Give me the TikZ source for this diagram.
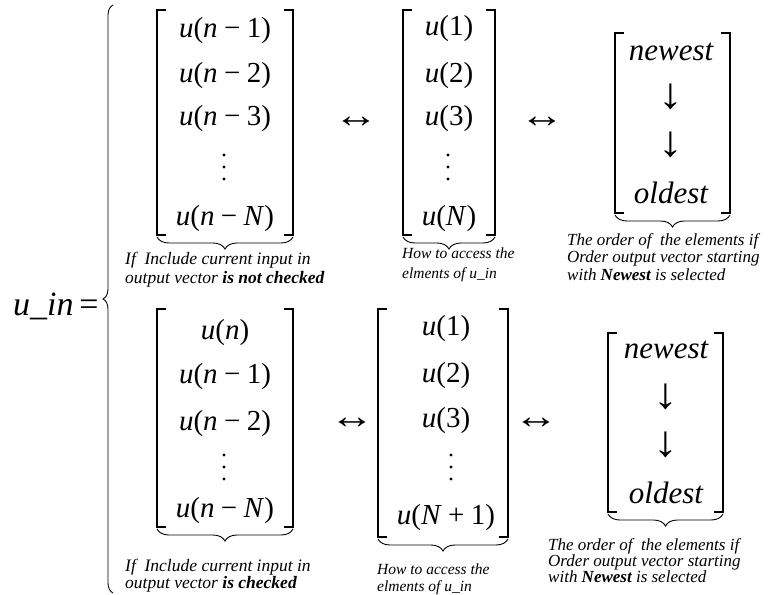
\documentclass[tikz,border=0pt]{standalone}
\usepackage{fontspec}
\setmainfont{Liberation Serif}
\usetikzlibrary{decorations.pathreplacing}
\newcommand\vu{\textit{u}}
\newcommand\vn{\textit{n}}
\newcommand\vN{\textit{N}}
\newcommand\ms{\hspace{0.22em}}
\begin{document}
\begin{tikzpicture}[x=1pt,y=-1pt,
  brk/.style={line width=1.1pt},
  ent/.style={font=\fontsize{29}{31}\selectfont, inner sep=0},
  word/.style={font=\fontsize{31}{33}\selectfont\itshape, inner sep=0},
  arr/.style={font=\fontsize{28}{30}\selectfont, inner sep=0},
  darr/.style={font=\fontsize{38}{40}\selectfont, inner sep=0},
  lbl/.style={font=\fontsize{17.5}{19}\selectfont\itshape, inner sep=0, align=left, anchor=base west},
  mlbl/.style={font=\fontsize{15.5}{20}\selectfont\itshape, inner sep=0, align=left, anchor=base west},
  rlbl/.style={font=\fontsize{17}{17.5}\selectfont\itshape, inner sep=0, align=left, anchor=base west},
  ubrace/.style={decorate, decoration={brace, mirror, amplitude=12pt}, line width=0.9pt},
  bigbrace/.style={decorate, decoration={brace, amplitude=10pt}, line width=0.9pt},
  dotf/.style={fill=black}
]
\useasboundingbox (0,0) rectangle (778,594);

% u_in =
\node[anchor=base west, inner sep=0, font=\fontsize{34}{36}\selectfont] (uin) at (13,315) {\textit{u\_in}\,=};
\draw[bigbrace] (113,593) -- (113,5);

% ---------- top row ----------
% matrix 1
\draw[brk] (166,10) -- (157,10) -- (157,235) -- (166,235);
\draw[brk] (284,10) -- (293,10) -- (293,235) -- (284,235);
\node[ent] (a1) at (225,31) {\vu(\vn\ms−\ms1)};
\node[ent] (a2) at (225,76) {\vu(\vn\ms−\ms2)};
\node[ent] (a3) at (225,119) {\vu(\vn\ms−\ms3)};
\fill[dotf] (224,155) circle (1.6) (224,167) circle (1.6) (224,179) circle (1.6);
\node[ent] (a4) at (225,219) {\vu(\vn\ms−\ms\vN)};
\draw[ubrace] (157,237) -- (293,237);
\node[lbl] (la) at (125,283) {If\ \ Include current input in\\output vector \textbf{is not checked}};

\node[arr] (ar1) at (356,122) {\scalebox{1.6}[1.3]{↔}};

% matrix 2
\draw[brk] (412,10) -- (403,10) -- (403,235) -- (412,235);
\draw[brk] (486,10) -- (495,10) -- (495,235) -- (486,235);
\node[ent] (b1) at (449,29) {\vu(1)};
\node[ent] (b2) at (449,76) {\vu(2)};
\node[ent] (b3) at (449,119) {\vu(3)};
\fill[dotf] (448,155) circle (1.6) (448,167) circle (1.6) (448,179) circle (1.6);
\node[ent] (b4) at (449,219) {\vu(\vN)};
\draw[ubrace] (403,237) -- (495,237);
\node[mlbl] (lb) at (402,278) {How to access the\\elments of  u\_in};

\node[arr] (ar2) at (542,122) {\scalebox{1.6}[1.3]{↔}};

% matrix 3
\draw[brk] (624,33) -- (615,33) -- (615,213) -- (624,213);
\draw[brk] (721,33) -- (730,33) -- (730,213) -- (721,213);
\node[word] (c1) at (671,52) {newest};
\node[darr] (c2) at (671,97) {\scalebox{1.3}[1.15]{↓}};
\node[darr] (c3) at (671,145) {\scalebox{1.3}[1.15]{↓}};
\node[word] (c4) at (671,193) {oldest};
\draw[ubrace] (615,215) -- (730,215);
\node[rlbl] (lc) at (567,280) {The order of\ \ the elements if\\Order output vector starting\\with \textbf{Newest} is selected};

% ---------- bottom row ----------
% matrix 4
\draw[brk] (166,309) -- (157,309) -- (157,527) -- (166,527);
\draw[brk] (284,309) -- (293,309) -- (293,527) -- (284,527);
\node[ent] (d1) at (225,333) {\vu(\vn)};
\node[ent] (d2) at (225,377) {\vu(\vn\ms−\ms1)};
\node[ent] (d3) at (225,424) {\vu(\vn\ms−\ms2)};
\fill[dotf] (224,455) circle (1.6) (224,467) circle (1.6) (224,479) circle (1.6);
\node[ent] (d4) at (225,511) {\vu(\vn\ms−\ms\vN)};
\draw[ubrace] (157,529) -- (293,529);
\node[lbl, font=\fontsize{17.5}{16.5}\selectfont\itshape] (ld) at (125,588) {If\ \ Include current input in\\output vector \textbf{is checked}};

\node[arr] (ar3) at (352,423) {\scalebox{1.6}[1.3]{↔}};

% matrix 5
\draw[brk] (387,309) -- (378,309) -- (378,537) -- (387,537);
\draw[brk] (499,309) -- (508,309) -- (508,537) -- (499,537);
\node[ent] (e1) at (446,329) {\vu(1)};
\node[ent] (e2) at (446,376) {\vu(2)};
\node[ent] (e3) at (446,421) {\vu(3)};
\fill[dotf] (451,455) circle (1.6) (451,467) circle (1.6) (451,479) circle (1.6);
\node[ent] (e4) at (446,518) {\vu(\vN\ms+\ms1)};
\draw[ubrace] (378,539) -- (508,539);
\node[mlbl, font=\fontsize{15.5}{17}\selectfont\itshape] (le) at (377,591) {How to access the\\elments of  u\_in};

\node[arr] (ar4) at (536,423) {\scalebox{1.6}[1.3]{↔}};

% matrix 6
\draw[brk] (617,333) -- (608,333) -- (608,512) -- (617,512);
\draw[brk] (714,333) -- (723,333) -- (723,512) -- (714,512);
\node[word] (f1) at (666,350) {newest};
\node[darr] (f2) at (666,397) {\scalebox{1.3}[1.15]{↓}};
\node[darr] (f3) at (666,445) {\scalebox{1.3}[1.15]{↓}};
\node[word] (f4) at (666,493) {oldest};
\draw[ubrace] (608,514) -- (723,514);
\node[rlbl, font=\fontsize{17}{16}\selectfont\itshape] (lf) at (548,582) {The order of\ \ the elements if\\Order output vector starting\\with \textbf{Newest} is selected};
\end{tikzpicture}
\end{document}
